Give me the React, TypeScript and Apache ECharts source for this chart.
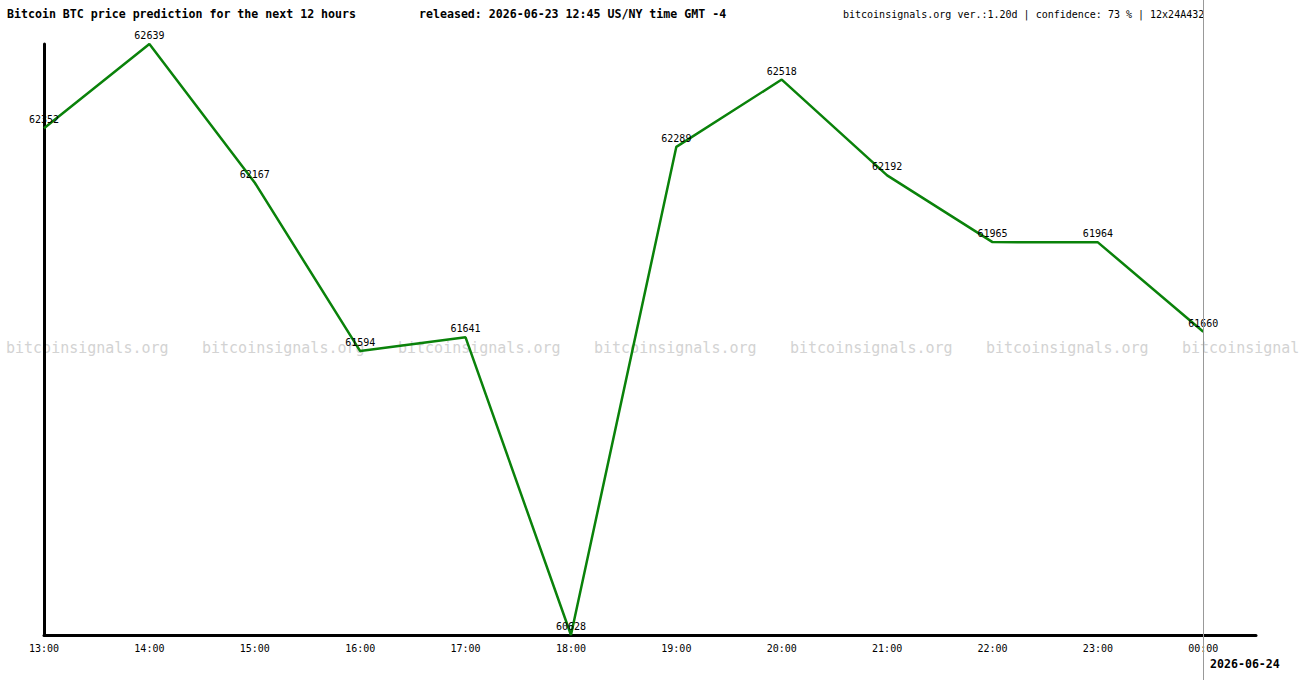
import React, { useRef, useEffect } from 'react';
import * as echarts from 'echarts';

const hours = ['13:00', '14:00', '15:00', '16:00', '17:00', '18:00', '19:00', '20:00', '21:00', '22:00', '23:00', '00:00'];
const prices = [62352, 62639, 62167, 61594, 61641, 60628, 62289, 62518, 62192, 61965, 61964, 61660];
const watermarkX = [6, 202, 398, 594, 790, 986, 1182];

const MONO = '"DejaVu Sans Mono", monospace';

const App: React.FC = () => {
  const chartRef = useRef<HTMLDivElement>(null);

  useEffect(() => {
    if (!chartRef.current) return;
    const chart = echarts.init(chartRef.current, null, { renderer: 'svg' });

    const minP = Math.min(...prices);
    const maxP = Math.max(...prices);

    // repeated site watermark across the middle of the plot
    const watermarks = watermarkX.map((x) => ({
      type: 'text',
      x,
      y: 348,
      z: -10,
      style: {
        text: 'bitcoinsignals.org',
        font: `15px ${MONO}`,
        fill: '#d3d3d3',
        verticalAlign: 'middle',
      },
    }));

    chart.setOption({
      animation: false,
      backgroundColor: '#ffffff',
      grid: { left: 44, right: 44, top: 44, bottom: 45 },
      xAxis: {
        type: 'value',
        min: 0,
        max: hours.length - 0.5,
        interval: 1,
        splitLine: { show: false },
        axisTick: { show: false },
        axisLine: { onZero: false, lineStyle: { color: '#000', width: 3 } },
        axisLabel: {
          margin: 8,
          fontFamily: MONO,
          fontSize: 10,
          color: '#000',
          showMaxLabel: false,
          formatter: (v: number) => (Number.isInteger(v) && hours[v] ? hours[v] : ''),
        },
      },
      yAxis: {
        type: 'value',
        min: minP,
        max: maxP,
        splitLine: { show: false },
        axisTick: { show: false },
        axisLabel: { show: false },
        axisLine: { show: true, onZero: false, lineStyle: { color: '#000', width: 3 } },
      },
      series: [
        {
          type: 'line',
          data: prices.map((p, i) => [i, p]),
          symbol: 'circle',
          symbolSize: 1,
          showSymbol: true,
          itemStyle: { color: 'rgba(0,0,0,0)' },
          lineStyle: { color: '#0a820a', width: 2.5 },
          label: {
            show: true,
            position: 'top',
            distance: 3,
            fontFamily: MONO,
            fontSize: 10,
            color: '#000',
            formatter: (p: any) => String(p.value[1]),
          },
          labelLayout: { hideOverlap: false },
          z: 3,
        },
      ],
      graphic: [
        ...watermarks,
        {
          type: 'text',
          x: 7,
          y: 14,
          style: {
            text: 'Bitcoin BTC price prediction for the next 12 hours',
            font: `bold 11.6px ${MONO}`,
            fill: '#000',
            verticalAlign: 'middle',
          },
        },
        {
          type: 'text',
          x: 419,
          y: 14,
          style: {
            text: 'released: 2026-06-23 12:45 US/NY time GMT -4',
            font: `bold 11.6px ${MONO}`,
            fill: '#000',
            verticalAlign: 'middle',
          },
        },
        {
          type: 'text',
          x: 843,
          y: 14,
          style: {
            text: 'bitcoinsignals.org ver.:1.20d | confidence: 73 % | 12x24A432',
            font: `10px ${MONO}`,
            fill: '#000',
            verticalAlign: 'middle',
          },
        },
        {
          type: 'text',
          x: 1210,
          y: 664,
          style: {
            text: '2026-06-24',
            font: `bold 11.6px ${MONO}`,
            fill: '#000',
            verticalAlign: 'middle',
          },
        },
        {
          type: 'line',
          z: 10,
          shape: { x1: 1203.5, y1: 0, x2: 1203.5, y2: 680 },
          style: { stroke: '#999', lineWidth: 1 },
        },
      ],
    });

    return () => {
      chart.dispose();
    };
  }, []);

  return (
    <div
      ref={chartRef}
      style={{ position: 'fixed', left: 0, top: 0, width: 1300, height: 680, background: '#fff' }}
    />
  );
};

export default App;
